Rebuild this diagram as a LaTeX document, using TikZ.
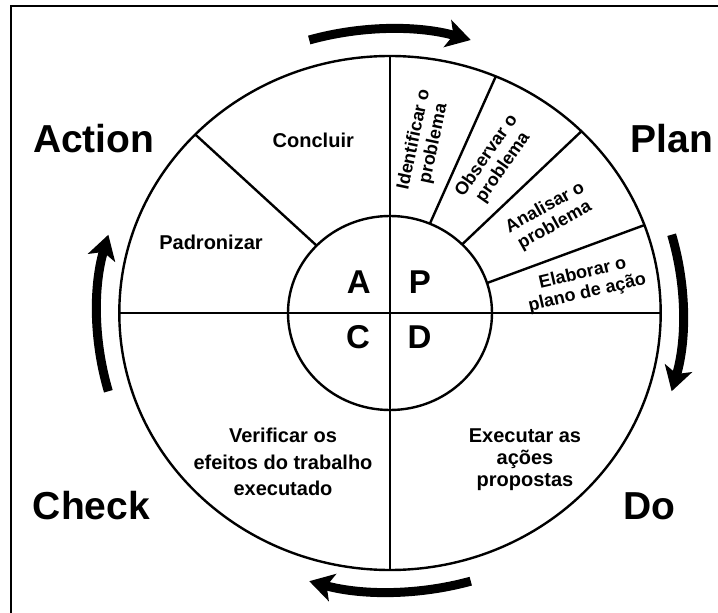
\documentclass[tikz,border=0pt]{standalone}
\usepackage{fontspec}
\setmainfont{Liberation Sans}
\usetikzlibrary{arrows.meta}

\begin{document}
\begin{tikzpicture}[x=1pt,y=1pt,
    wheel/.style={line width=2.4pt},
    cycle arrow/.style={line width=9pt,-{Stealth[length=24pt,width=28pt,inset=6pt]}},
    phase/.style={font=\fontsize{39}{47}\selectfont\bfseries},
    letter/.style={font=\fontsize{33}{40}\selectfont\bfseries},
    task/.style={font=\fontsize{20}{26.5}\selectfont\bfseries,align=center},
    subtask/.style={font=\fontsize{18}{20}\selectfont\bfseries,align=center}]
    \useasboundingbox (-390,-300) rectangle (328,313);
    \draw[line width=2pt] (-379.3,-300) -- (-379.3,307.3) -- (328,307.3);
    \coordinate (C) at (0,0);
    \coordinate (W) at (180:270.7 and 257);
    \coordinate (E) at (0:270.7 and 257);
    \coordinate (N) at (90:270.7 and 257);
    \coordinate (S) at (270:270.7 and 257);
    \draw[wheel] (C) ellipse[x radius=270.7,y radius=257];
    \draw[wheel] (C) ellipse[x radius=102,y radius=97];
    \draw[wheel] (W) -- (E);
    \draw[wheel] (S) -- (N);
    \foreach \a/\b in {136/136,67/67,45/45,18/20}{
        \coordinate (in\a) at (\a:102 and 97);
        \coordinate (out\a) at (\b:270.7 and 257);
        \draw[wheel] (in\a) -- (out\a);
    }
    \draw[cycle arrow] (106:293 and 284) arc[start angle=106,end angle=74,x radius=293,y radius=284];
    \draw[cycle arrow] (16:293 and 284) arc[start angle=16,end angle=-16,x radius=293,y radius=284];
    \draw[cycle arrow] (-74:293 and 279) arc[start angle=-74,end angle=-106,x radius=293,y radius=279];
    \draw[cycle arrow] (196:293 and 284) arc[start angle=196,end angle=164,x radius=293,y radius=284];
    \node[phase] (act) at (-296.3,174) {Action};
    \node[phase] (plan) at (282,174) {Plan};
    \node[phase] (check) at (-298.5,-193) {Check};
    \node[phase] (do) at (259,-193) {Do};
    \node[letter] (a) at (-31.2,31) {A};
    \node[letter] (p) at (30,31) {P};
    \node[letter] (c) at (-32,-23.7) {C};
    \node[letter] (d) at (29.5,-23.7) {D};
    \node[task] (concluir) at (-76.7,173) {Concluir};
    \node[task] (padronizar) at (-179,70.3) {Padronizar};
    \node[task] (verificar) at (-107,-149) {Verificar os\\efeitos do trabalho\\executado};
    \node[task,font=\fontsize{20}{22}\selectfont\bfseries] (executar) at (135,-147) {Executar as\\ações\\propostas};
    \node[subtask,rotate=78] (identificar) at (34,171.3) {Identificar o\\problema};
    \node[subtask,rotate=55] (observar) at (105,151.3) {Observar o\\problema};
    \node[subtask,rotate=29] (analisar) at (160,96.3) {Analisar o\\problema};
    \node[subtask,rotate=13] (elaborar) at (195,29.7) {Elaborar o\\plano de ação};
\end{tikzpicture}
\end{document}
